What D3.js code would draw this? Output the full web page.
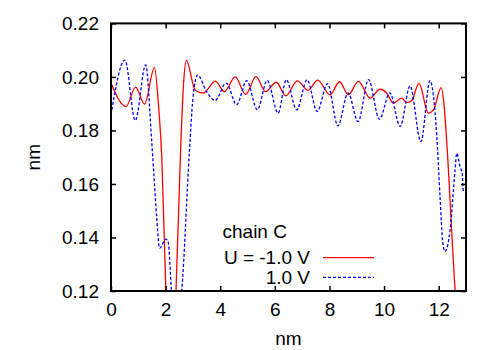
<!DOCTYPE html>
<html>
<head>
<meta charset="utf-8">
<script src="https://cdn.jsdelivr.net/npm/d3@7"></script>
<style>
  html, body { margin: 0; padding: 0; background: #fff; }
  svg text { font-family: "Liberation Sans", Arial, sans-serif; fill: #000; }
</style>
</head>
<body>
<div id="chart"></div>
<script>
// chain C, U = -1.0 V (red, solid)
const redX = [0, 0.55, 0.9, 1.23, 1.59, 1.75, 1.86, 2.01, 2.2, 2.38, 2.55, 2.66, 2.76, 3.08, 3.38, 3.82,
  4.15, 4.55, 4.93, 5.31, 5.66, 6.05, 6.40, 6.82, 7.22, 7.57, 8.02, 8.37, 8.69, 9.06, 9.49, 9.85,
  10.1, 10.34, 10.65, 10.83, 11.0, 11.28, 11.62, 11.81, 12.09, 12.2, 12.28, 12.6, 12.75, 12.92];
const redY = [0.1977, 0.1889, 0.1962, 0.1898, 0.2035, 0.188, 0.170, 0.120, 0.090, 0.120, 0.173, 0.198, 0.2062, 0.1951, 0.1940, 0.1984,
  0.1945, 0.2000, 0.1935, 0.2001, 0.1945, 0.1980, 0.1929, 0.1985, 0.1950, 0.1988, 0.1933, 0.1982, 0.1933, 0.1983, 0.1921, 0.1954,
  0.1939, 0.1902, 0.1921, 0.1904, 0.1910, 0.1976, 0.1865, 0.1877, 0.1960, 0.1890, 0.1780, 0.1205, 0.100, 0.120];

// chain C, U = 1.0 V (blue, dashed)
const blueX = [0, 0.51, 0.89, 1.27, 1.49, 1.58, 1.67, 1.78, 2.01, 2.10, 2.21, 2.4, 2.59, 2.87, 3.0, 3.17,
  3.5, 3.81, 4.22, 4.6, 4.97, 5.36, 5.72, 6.12, 6.42, 6.8, 7.18, 7.55, 7.93, 8.31, 8.68, 9.05,
  9.43, 9.83, 10.21, 10.59, 10.95, 11.35, 11.68, 11.93, 12.05, 12.15, 12.23, 12.42, 12.6, 12.66, 12.78, 12.86, 12.9];
const blueY = [0.1858, 0.2063, 0.1837, 0.2045, 0.176, 0.162, 0.148, 0.136, 0.1394, 0.138, 0.1205, 0.105, 0.120, 0.172, 0.192, 0.2007,
  0.1945, 0.1912, 0.1977, 0.1896, 0.1986, 0.1877, 0.1987, 0.1865, 0.1989, 0.1877, 0.1989, 0.1871, 0.1975, 0.1817, 0.1940, 0.1833,
  0.1990, 0.1842, 0.1940, 0.1815, 0.1966, 0.1758, 0.1986, 0.178, 0.155, 0.138, 0.1348, 0.143, 0.1653, 0.1715, 0.1665, 0.164, 0.157];

const xTicks = [0, 2, 4, 6, 8, 10, 12];
const yTicks = [0.12, 0.14, 0.16, 0.18, 0.20, 0.22];

const width = 500, height = 350;
const margin = { top: 23.4, right: 34, bottom: 59, left: 111 };

const svg = d3.select("#chart").append("svg")
    .attr("width", width)
    .attr("height", height);

const x = d3.scaleLinear().domain([0, 13]).range([margin.left, width - margin.right]);
const y = d3.scaleLinear().domain([0.12, 0.22]).range([height - margin.bottom, margin.top]);

svg.append("clipPath").attr("id", "plot")
  .append("rect")
    .attr("x", margin.left).attr("y", margin.top)
    .attr("width", x(13) - x(0)).attr("height", y(0.12) - y(0.22));

const line = d3.line()
    .x(d => x(d[0]))
    .y(d => y(d[1]))
    .curve(d3.curveMonotoneX);

const red = d3.zip(redX, redY);
const blue = d3.zip(blueX, blueY);

const lines = svg.append("g").attr("clip-path", "url(#plot)");
lines.append("path").datum(red)
    .attr("fill", "none").attr("stroke", "#ff0000").attr("stroke-width", 1.3)
    .attr("d", line);
lines.append("path").datum(blue)
    .attr("fill", "none").attr("stroke", "#0000ff").attr("stroke-width", 1.3)
    .attr("stroke-dasharray", "3,2")
    .attr("d", line);

// axes (ticks inward, mirrored)
const tick = 5;
const fs = 19;
svg.append("g").attr("transform", `translate(0,${y(0.12)})`)
    .call(d3.axisBottom(x).tickValues(xTicks).tickSize(-tick).tickPadding(10).tickFormat(d3.format("d")))
    .call(g => g.select(".domain").remove())
    .call(g => g.selectAll("line").attr("stroke-width", 1.5))
    .call(g => g.selectAll("text").attr("font-size", fs).attr("font-family", "Liberation Sans, Arial, sans-serif").attr("dy", "0.8em"));
svg.append("g").attr("transform", `translate(0,${y(0.22)})`)
    .call(d3.axisTop(x).tickValues(xTicks).tickSize(-tick).tickFormat(""))
    .call(g => g.select(".domain").remove())
    .call(g => g.selectAll("line").attr("stroke-width", 1.5));
svg.append("g").attr("transform", `translate(${x(0)},0)`)
    .call(d3.axisLeft(y).tickValues(yTicks).tickSize(-tick).tickPadding(12).tickFormat(d3.format(".2f")))
    .call(g => g.select(".domain").remove())
    .call(g => g.selectAll("line").attr("stroke-width", 1.5))
    .call(g => g.selectAll("text").attr("font-size", fs).attr("font-family", "Liberation Sans, Arial, sans-serif"));
svg.append("g").attr("transform", `translate(${x(13)},0)`)
    .call(d3.axisRight(y).tickValues(yTicks).tickSize(-tick).tickFormat(""))
    .call(g => g.select(".domain").remove())
    .call(g => g.selectAll("line").attr("stroke-width", 1.5));

svg.append("rect")
    .attr("x", x(0)).attr("y", y(0.22))
    .attr("width", x(13) - x(0)).attr("height", y(0.12) - y(0.22))
    .attr("fill", "none").attr("stroke", "#000").attr("stroke-width", 2);

// axis titles
svg.append("text")
    .attr("x", (x(0) + x(13)) / 2).attr("y", 345)
    .attr("text-anchor", "middle").attr("font-size", fs)
    .text("nm");
svg.append("text")
    .attr("transform", `translate(40,${(y(0.12) + y(0.22)) / 2}) rotate(-90)`)
    .attr("text-anchor", "middle").attr("font-size", fs)
    .text("nm");

// legend
const legend = svg.append("g").attr("font-size", fs);
legend.append("text").attr("x", 222.5).attr("y", 238.3).text("chain C");
legend.append("text").attr("x", 310).attr("y", 264.4).attr("text-anchor", "end").text("U = -1.0 V");
legend.append("text").attr("x", 310).attr("y", 284).attr("text-anchor", "end").text("1.0 V");
legend.append("line").attr("x1", 323).attr("x2", 374).attr("y1", 257.7).attr("y2", 257.7)
    .attr("stroke", "#ff0000").attr("stroke-width", 1.3);
legend.append("line").attr("x1", 323).attr("x2", 374).attr("y1", 277.3).attr("y2", 277.3)
    .attr("stroke", "#0000ff").attr("stroke-width", 1.3).attr("stroke-dasharray", "3,2");
</script>
</body>
</html>
